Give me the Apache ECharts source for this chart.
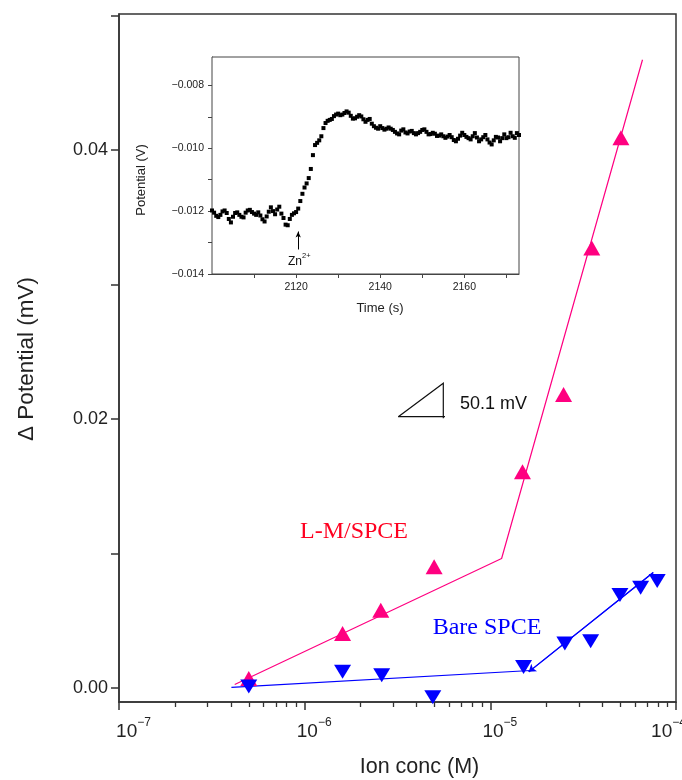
<!DOCTYPE html>
<html><head><meta charset="utf-8">
<script src="https://cdn.jsdelivr.net/npm/echarts@6/dist/echarts.min.js"></script>
<style>html,body{margin:0;padding:0;background:#fff}#c{width:682px;height:780px}</style>
</head><body><div id="c"></div>
<script>
// ---- main chart data ----
const lmConc = [5.0e-7, 1.6e-6, 2.57e-6, 4.98e-6, 1.49e-5, 2.48e-5, 3.52e-5, 5.05e-5];
const lmPotential = [0.0007, 0.00405, 0.00578, 0.0090, 0.01607, 0.02181, 0.0327, 0.0409];
const bareConc = [5.0e-7, 1.6e-6, 2.6e-6, 4.9e-6, 1.51e-5, 2.52e-5, 3.47e-5, 4.99e-5, 6.45e-5, 7.92e-5];
const barePotential = [0.0001, 0.00119, 0.00094, -0.0007, 0.00156, 0.0033, 0.00347, 0.0069, 0.00744, 0.00794];
const lmFitConc = [4.2e-7, 1.15e-5, 6.6e-5];
const lmFitPotential = [0.00025, 0.00962, 0.0467];
const bareFit1Conc = [4.03e-7, 1.74e-5];
const bareFit1Potential = [0.00003, 0.00131];
const bareFit2Conc = [1.61e-5, 7.54e-5];
const bareFit2Potential = [0.00119, 0.00858];
const xTickValues = [1e-7, 1e-6, 1e-5, 1e-4];
const xTickExponents = ['\u22127', '\u22126', '\u22125', '\u22124'];
const xMinorTickValues = [2e-7,3e-7,4e-7,5e-7,6e-7,7e-7,8e-7,9e-7,2e-6,3e-6,4e-6,5e-6,6e-6,7e-6,8e-6,9e-6,2e-5,3e-5,4e-5,5e-5,6e-5,7e-5,8e-5,9e-5];
const yTickValues = [0, 0.01, 0.02, 0.03, 0.04, 0.05];
const yLabelValues = [0, 0.02, 0.04];

// ---- inset data: [time (s), potential (V)] ----
const insetSamples = [
[2100.0,-0.01198],[2100.5,-0.01205],[2101.0,-0.01215],[2101.5,-0.01219],[2102.0,-0.01212],[2102.5,-0.01201],[2103.0,-0.01198],[2103.5,-0.01206],[2104.0,-0.01225],[2104.5,-0.01236],
[2105.0,-0.01218],[2105.5,-0.01206],[2106.0,-0.01204],[2106.5,-0.01212],[2107.0,-0.01218],[2107.5,-0.01220],[2108.0,-0.01205],[2108.5,-0.01198],[2109.0,-0.01196],[2109.5,-0.01203],
[2110.0,-0.01208],[2110.5,-0.01212],[2111.0,-0.01204],[2111.5,-0.01214],[2112.0,-0.01226],[2112.5,-0.01233],[2113.0,-0.01217],[2113.5,-0.01202],[2114.0,-0.01188],[2114.5,-0.01200],
[2115.0,-0.01210],[2115.5,-0.01195],[2116.0,-0.01186],[2116.5,-0.01208],[2117.0,-0.01222],[2117.5,-0.01243],[2118.0,-0.01245],[2118.5,-0.01225],[2119.0,-0.01212],[2119.5,-0.01207],
[2120.0,-0.01203],[2120.5,-0.01192],[2121.0,-0.01168],[2121.5,-0.01145],[2122.0,-0.01125],[2122.5,-0.01112],[2123.0,-0.01095],[2123.5,-0.01066],[2124.0,-0.01022],[2124.5,-0.00990],
[2125.0,-0.00983],[2125.5,-0.00975],[2126.0,-0.00962],[2126.5,-0.00936],[2127.0,-0.00920],[2127.5,-0.00913],[2128.0,-0.00910],[2128.5,-0.00907],[2129.0,-0.00898],[2129.5,-0.00893],
[2130.0,-0.00890],[2130.5,-0.00895],[2131.0,-0.00893],[2131.5,-0.00888],[2132.0,-0.00883],[2132.5,-0.00887],[2133.0,-0.00897],[2133.5,-0.00906],[2134.0,-0.00905],[2134.5,-0.00900],
[2135.0,-0.00895],[2135.5,-0.00899],[2136.0,-0.00908],[2136.5,-0.00916],[2137.0,-0.00910],[2137.5,-0.00907],[2138.0,-0.00922],[2138.5,-0.00930],[2139.0,-0.00935],[2139.5,-0.00938],
[2140.0,-0.00930],[2140.5,-0.00936],[2141.0,-0.00941],[2141.5,-0.00938],[2142.0,-0.00934],[2142.5,-0.00938],[2143.0,-0.00942],[2143.5,-0.00948],[2144.0,-0.00953],[2144.5,-0.00956],
[2145.0,-0.00944],[2145.5,-0.00940],[2146.0,-0.00950],[2146.5,-0.00953],[2147.0,-0.00947],[2147.5,-0.00945],[2148.0,-0.00952],[2148.5,-0.00956],[2149.0,-0.00952],[2149.5,-0.00948],
[2150.0,-0.00942],[2150.5,-0.00940],[2151.0,-0.00948],[2151.5,-0.00956],[2152.0,-0.00955],[2152.5,-0.00951],[2153.0,-0.00954],[2153.5,-0.00961],[2154.0,-0.00960],[2154.5,-0.00956],
[2155.0,-0.00962],[2155.5,-0.00967],[2156.0,-0.00963],[2156.5,-0.00958],[2157.0,-0.00965],[2157.5,-0.00974],[2158.0,-0.00978],[2158.5,-0.00970],[2159.0,-0.00960],[2159.5,-0.00951],
[2160.0,-0.00958],[2160.5,-0.00964],[2161.0,-0.00968],[2161.5,-0.00972],[2162.0,-0.00962],[2162.5,-0.00952],[2163.0,-0.00966],[2163.5,-0.00978],[2164.0,-0.00972],[2164.5,-0.00965],
[2165.0,-0.00958],[2165.5,-0.00972],[2166.0,-0.00982],[2166.5,-0.00988],[2167.0,-0.00975],[2167.5,-0.00964],[2168.0,-0.00966],[2168.5,-0.00978],[2169.0,-0.00968],[2169.5,-0.00956],
[2170.0,-0.00968],[2170.5,-0.00965],[2171.0,-0.00951],[2171.5,-0.00962],[2172.0,-0.00967],[2172.5,-0.00952],[2173.0,-0.00958]
];
const insetXTicks = [2110, 2120, 2130, 2140, 2150, 2160, 2170];
const insetXLabels = [2120, 2140, 2160];
const insetYTicks = [-0.014, -0.013, -0.012, -0.011, -0.010, -0.009, -0.008];
const insetYLabels = [-0.014, -0.012, -0.010, -0.008];
const znArrowTime = [2120.5, 2120.5];
const znArrowPotential = [-0.01322, -0.01265];

const FONT = '"Liberation Sans", Arial, sans-serif';
const SERIF = '"Liberation Serif", "Times New Roman", serif';
const AX = '#333';
const PINK = '#FF0080';
const BLUE = '#0000FF';

function zip(a, b) { return a.map((v, i) => [v, b[i]]); }
function expIndex(v) {
  let best = 0, d = 1e9;
  xTickValues.forEach((t, i) => { const dd = Math.abs(Math.log10(t) - Math.log10(v)); if (dd < d) { d = dd; best = i; } });
  return best;
}

const chart = echarts.init(document.getElementById('c'), null, { renderer: 'canvas' });
chart.setOption({
  animation: false,
  backgroundColor: '#fff',
  grid: [
    { left: 119, top: 14, right: 6, bottom: 78, show: true, borderColor: AX, borderWidth: 1.5, backgroundColor: 'transparent',
      containLabel: false, outerBoundsMode: 'none' },
    { left: 212, top: 57, right: 163, bottom: 506, show: true, borderColor: '#444', borderWidth: 1, backgroundColor: '#fff', z: 5,
      containLabel: false, outerBoundsMode: 'none' }
  ],
  xAxis: [
    {
      type: 'log', logBase: 10, gridIndex: 0, min: 1e-7, max: 1e-4, position: 'bottom',
      axisLine: { show: true, onZero: false, lineStyle: { color: AX, width: 1.5 } },
      axisTick: { show: true, inside: false, length: 8, customValues: xTickValues, lineStyle: { color: AX, width: 1.5 } },
      splitLine: { show: false }, minorTick: { show: false },
      axisLabel: {
        customValues: xTickValues, margin: 15, color: '#222', hideOverlap: false,
        formatter: function (v) {
          const i = expIndex(v);
          const last = i === xTickValues.length - 1;
          const pre = i === 0 ? '{p0| }' : (last ? '' : '{pm| }');
          const post = last ? '{pr| }' : '';
          return pre + '{b|10}{s|' + xTickExponents[i] + '}' + post;
        },
        rich: {
          b: { fontSize: 19, fontFamily: FONT, color: '#222', lineHeight: 30 },
          s: { fontSize: 12, fontFamily: FONT, color: '#222', lineHeight: 12, verticalAlign: 'top' },
          p0: { width: 29 }, pm: { width: 19 }, pr: { width: 15 }
        }
      }
    },
    {
      type: 'log', logBase: 10, gridIndex: 0, min: 1e-7, max: 1e-4, position: 'bottom', offset: 0,
      axisLine: { show: false, onZero: false },
      axisTick: { show: true, inside: false, length: 5, customValues: xMinorTickValues, lineStyle: { color: AX, width: 1.3 } },
      axisLabel: { show: false }, splitLine: { show: false }
    },
    {
      type: 'value', gridIndex: 1, min: 2100, max: 2173,
      axisLine: { show: true, onZero: false, lineStyle: { color: '#444', width: 1 } },
      axisTick: { show: true, inside: false, length: 4, customValues: insetXTicks, lineStyle: { color: '#444' } },
      axisLabel: { customValues: insetXLabels, margin: 8, fontSize: 10.5, fontFamily: FONT, color: '#222', formatter: v => String(v) },
      splitLine: { show: false }
    }
  ],
  yAxis: [
    {
      type: 'value', gridIndex: 0, min: -0.00105, max: 0.0501,
      axisLine: { show: true, onZero: false, lineStyle: { color: AX, width: 1.5 } },
      axisTick: { show: true, inside: false, length: 8, customValues: yTickValues, lineStyle: { color: AX, width: 1.5 } },
      axisLabel: { customValues: yLabelValues, margin: 11, fontSize: 18, fontFamily: FONT, color: '#222', formatter: v => v.toFixed(2) },
      splitLine: { show: false }
    },
    {
      type: 'value', gridIndex: 1, min: -0.014, max: -0.0071,
      axisLine: { show: true, onZero: false, lineStyle: { color: '#444', width: 1 } },
      axisTick: { show: true, inside: false, length: 4, customValues: insetYTicks, lineStyle: { color: '#444' } },
      axisLabel: { customValues: insetYLabels, margin: 8, fontSize: 10.5, fontFamily: FONT, color: '#222',
        formatter: v => (v < 0 ? '\u2212' : '') + Math.abs(v).toFixed(3) },
      splitLine: { show: false }
    }
  ],
  series: [
    { type: 'line', xAxisIndex: 0, yAxisIndex: 0, data: zip(lmFitConc, lmFitPotential), showSymbol: false, symbol: 'none',
      lineStyle: { color: PINK, width: 1.2 }, z: 2 },
    { type: 'line', xAxisIndex: 0, yAxisIndex: 0, data: zip(bareFit1Conc, bareFit1Potential), showSymbol: false, symbol: 'none',
      lineStyle: { color: BLUE, width: 1.2 }, z: 2 },
    { type: 'line', xAxisIndex: 0, yAxisIndex: 0, data: zip(bareFit2Conc, bareFit2Potential), showSymbol: false, symbol: 'none',
      lineStyle: { color: BLUE, width: 1.2 }, z: 2,
      markLine: { silent: true, animation: false, symbol: ['none', 'arrow'], symbolSize: 7, label: { show: false },
        lineStyle: { color: BLUE, width: 1.2, type: 'solid' },
        data: [[{ coord: [bareFit2Conc[1], bareFit2Potential[1]] }, { coord: [bareFit2Conc[0], bareFit2Potential[0]] }]] } },
    { type: 'scatter', name: 'L-M/SPCE', xAxisIndex: 0, yAxisIndex: 0, data: zip(lmConc, lmPotential),
      symbol: 'triangle', symbolSize: [17, 15], itemStyle: { color: PINK, opacity: 1 }, z: 3, clip: false },
    { type: 'scatter', name: 'Bare SPCE', xAxisIndex: 0, yAxisIndex: 0, data: zip(bareConc, barePotential),
      symbol: 'triangle', symbolRotate: 180, symbolSize: [17, 14], itemStyle: { color: BLUE, opacity: 1 }, z: 3, clip: false },
    { type: 'scatter', xAxisIndex: 2, yAxisIndex: 1, data: insetSamples, symbol: 'rect', symbolSize: 4,
      itemStyle: { color: '#000', opacity: 1 }, z: 6,
      markLine: { silent: true, animation: false, symbol: ['none', 'arrow'], symbolSize: [4, 6], label: { show: false },
        lineStyle: { color: '#000', width: 1, type: 'solid' },
        data: [[{ coord: [znArrowTime[0], znArrowPotential[0]] }, { coord: [znArrowTime[1], znArrowPotential[1]] }]] } }
  ],
  graphic: [
    { type: 'text', x: 419.5, y: 767, z: 100, style: { text: 'Ion conc (M)', fontSize: 21.5, fontFamily: FONT, fill: '#222', align: 'center', verticalAlign: 'middle' } },
    { type: 'text', x: 27, y: 359, rotation: Math.PI / 2, z: 100, style: { text: '\u0394 Potential (mV)', fontSize: 22.5, fontFamily: FONT, fill: '#222', align: 'center', verticalAlign: 'middle' } },
    { type: 'text', x: 354, y: 532, z: 100, style: { text: 'L-M/SPCE', fontSize: 24, fontFamily: SERIF, fill: '#FF0020', align: 'center', verticalAlign: 'middle' } },
    { type: 'text', x: 487, y: 628, z: 100, style: { text: 'Bare SPCE', fontSize: 24, fontFamily: SERIF, fill: BLUE, align: 'center', verticalAlign: 'middle' } },
    { type: 'text', x: 460, y: 404, z: 100, style: { text: '50.1 mV', fontSize: 18, fontFamily: FONT, fill: '#111', align: 'left', verticalAlign: 'middle' } },
    { type: 'polyline', z: 100, shape: { points: [[398.3, 416.7], [443.3, 383.3], [443.3, 418.3]] }, style: { stroke: '#111', lineWidth: 1.2, fill: null } },
    { type: 'line', z: 100, shape: { x1: 398.3, y1: 416.7, x2: 445, y2: 416.7 }, style: { stroke: '#111', lineWidth: 1.2 } },
    { type: 'text', x: 380, y: 308, z: 100, style: { text: 'Time (s)', fontSize: 13, fontFamily: FONT, fill: '#222', align: 'center', verticalAlign: 'middle' } },
    { type: 'text', x: 141.7, y: 180, rotation: Math.PI / 2, z: 100, style: { text: 'Potential (V)', fontSize: 13, fontFamily: FONT, fill: '#222', align: 'center', verticalAlign: 'middle' } },
    { type: 'text', x: 295, y: 262, z: 100, style: { text: 'Zn', fontSize: 12, fontFamily: FONT, fill: '#111', align: 'center', verticalAlign: 'middle' } },
    { type: 'text', x: 302, y: 256, z: 100, style: { text: '2+', fontSize: 7.5, fontFamily: FONT, fill: '#111', align: 'left', verticalAlign: 'middle' } }
  ]
});
</script>
</body></html>
